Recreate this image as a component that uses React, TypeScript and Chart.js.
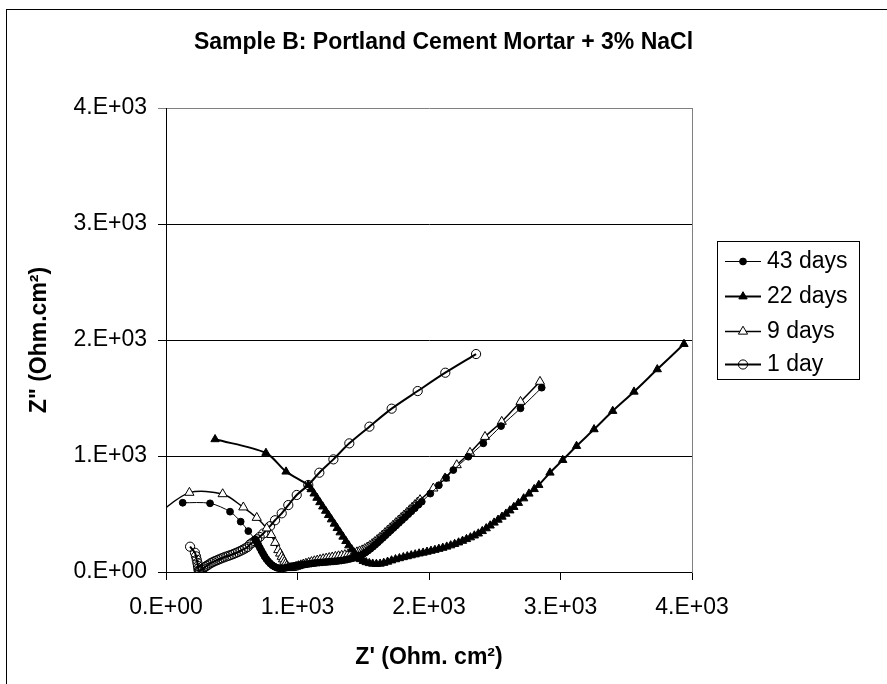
import React, { useEffect, useRef } from "react";
import { Chart, registerables } from "chart.js";

Chart.register(...registerables);

const titleText = "Sample B: Portland Cement Mortar + 3% NaCl";
const xTitle = "Z' (Ohm. cm²)";
const yTitle = 'Z" (Ohm.cm²)';
const tickLabels = ["0.E+00", "1.E+03", "2.E+03", "3.E+03", "4.E+03"];
const seriesLabels = ["43 days", "22 days", "9 days", "1 day"];

// 43 days
const x43 = [127, 335, 487, 568, 626, 677, 690, 702, 714, 726, 738, 750, 763, 777, 792, 808, 825, 842, 860, 878, 896, 914, 932, 950, 968, 987, 1006, 1025, 1045, 1065, 1085, 1105, 1125, 1145, 1165, 1186, 1207, 1228, 1249, 1270, 1291, 1312, 1333, 1355, 1376, 1398, 1420, 1440, 1460, 1480, 1500, 1518, 1536, 1555, 1574, 1592, 1611, 1630, 1650, 1670, 1690, 1710, 1730, 1750, 1772, 1795, 1818, 1842, 1866, 1892, 1920, 1945, 2010, 2075, 2130, 2185, 2299, 2413, 2548, 2696, 2857];
const y43 = [597, 592, 520, 434, 353, 282, 258, 234, 208, 182, 158, 134, 112, 92, 74, 58, 46, 37, 32, 31, 33, 37, 42, 47, 51, 55, 58, 61, 64, 67, 70, 73, 76, 79, 81, 83, 85, 87, 89, 91, 93, 96, 99, 103, 107, 113, 119, 126, 134, 144, 156, 169, 184, 200, 218, 236, 255, 275, 295, 317, 338, 359, 380, 401, 424, 448, 472, 498, 523, 550, 580, 606, 676, 748, 812, 879, 994, 1109, 1258, 1411, 1589];

// 22 days
const x22 = [373, 760, 913, 1082, 1104, 1126, 1148, 1170, 1192, 1214, 1236, 1258, 1280, 1302, 1324, 1346, 1368, 1390, 1412, 1434, 1456, 1478, 1500, 1522, 1546, 1572, 1600, 1628, 1656, 1685, 1715, 1745, 1775, 1805, 1835, 1865, 1895, 1925, 1955, 1985, 2015, 2045, 2075, 2105, 2135, 2165, 2195, 2225, 2255, 2285, 2315, 2345, 2375, 2405, 2435, 2465, 2495, 2525, 2555, 2585, 2615, 2645, 2680, 2720, 2760, 2800, 2835, 2920, 3017, 3122, 3255, 3397, 3559, 3736, 3939];
const y22 = [1144, 1026, 865, 750, 713, 676, 639, 601, 564, 527, 490, 453, 416, 378, 341, 304, 266, 229, 195, 162, 133, 110, 95, 84, 76, 71, 69, 71, 78, 88, 99, 109, 118, 127, 135, 143, 151, 159, 166, 174, 182, 190, 199, 208, 218, 229, 241, 254, 268, 283, 298, 314, 331, 352, 376, 400, 425, 450, 476, 502, 530, 560, 595, 634, 675, 714, 750, 856, 965, 1086, 1230, 1388, 1554, 1747, 1965];

// 9 days
const x9 = [-60, 178, 431, 588, 690, 766, 800, 830, 854, 868, 880, 890, 900, 909, 918, 930, 943, 958, 974, 990, 1007, 1025, 1044, 1064, 1085, 1106, 1128, 1150, 1172, 1195, 1218, 1241, 1264, 1288, 1312, 1336, 1360, 1384, 1408, 1430, 1452, 1472, 1492, 1511, 1530, 1549, 1568, 1587, 1606, 1626, 1645, 1665, 1685, 1705, 1726, 1747, 1768, 1789, 1810, 1831, 1852, 1872, 1892, 1912, 1932, 2033, 2122, 2211, 2312, 2426, 2553, 2696, 2844];
const y9 = [505, 684, 672, 558, 468, 377, 320, 252, 190, 160, 132, 110, 89, 70, 52, 42, 35, 36, 40, 46, 52, 59, 66, 73, 80, 87, 94, 100, 106, 112, 117, 122, 127, 132, 137, 142, 147, 152, 158, 164, 171, 179, 188, 199, 212, 226, 242, 259, 277, 296, 316, 337, 358, 379, 401, 423, 445, 467, 489, 511, 534, 556, 578, 600, 621, 721, 808, 922, 1029, 1166, 1296, 1468, 1641];

// 1 day
const x1 = [183, 220, 228, 234, 239, 243, 246, 249, 253, 260, 270, 282, 295, 309, 324, 340, 356, 372, 389, 406, 423, 440, 458, 476, 494, 512, 530, 548, 566, 584, 602, 620, 638, 656, 674, 692, 712, 740, 791, 829, 880, 930, 994, 1082, 1166, 1273, 1394, 1547, 1716, 1914, 2124, 2358];
const y1 = [218, 166, 135, 105, 78, 52, 30, 12, 5, 12, 20, 30, 42, 53, 64, 76, 85, 94, 102, 110, 118, 126, 133, 140, 147, 155, 163, 172, 182, 192, 203, 215, 238, 252, 266, 282, 302, 332, 395, 446, 506, 577, 664, 750, 856, 971, 1109, 1253, 1408, 1560, 1718, 1879];

const toPoints = (xs: number[], ys: number[]) => xs.map((x, i) => ({ x, y: ys[i] }));

const FONT = "'Liberation Sans', Arial, Helvetica, sans-serif";

function drawMarker(ctx: CanvasRenderingContext2D, style: string, r: number, fill: string, x: number, y: number) {
  ctx.beginPath();
  if (style === "triangle") {
    const h = r * 1.5;
    const s = (r * Math.sqrt(3)) / 2;
    ctx.moveTo(x, y - r);
    ctx.lineTo(x + s, y - r + h);
    ctx.lineTo(x - s, y - r + h);
    ctx.closePath();
  } else {
    ctx.arc(x, y, r, 0, Math.PI * 2);
  }
  if (fill !== "transparent") {
    ctx.fillStyle = fill;
    ctx.fill();
  }
  ctx.lineWidth = 1;
  ctx.strokeStyle = "#000";
  ctx.stroke();
}

const boxLegend = {
  id: "boxLegend",
  afterDraw(chart: any) {
    const ctx: CanvasRenderingContext2D = chart.ctx;
    ctx.save();
    ctx.fillStyle = "#fff";
    ctx.fillRect(718, 242, 141, 137);
    ctx.strokeStyle = "#000";
    ctx.lineWidth = 1;
    ctx.strokeRect(717.5, 241.5, 142, 138);
    const ys = [261, 296, 331, 364];
    chart.data.datasets.forEach((ds: any, i: number) => {
      const y = ys[i];
      ctx.beginPath();
      ctx.strokeStyle = "#000";
      ctx.lineWidth = ds.borderWidth;
      ctx.moveTo(725, y + 0.5);
      ctx.lineTo(761, y + 0.5);
      ctx.stroke();
      drawMarker(ctx, ds.pointStyle, ds.pointRadius, ds.pointBackgroundColor, 743, y + 0.5);
      ctx.fillStyle = "#000";
      ctx.font = `23px ${FONT}`;
      ctx.textAlign = "left";
      ctx.textBaseline = "middle";
      ctx.fillText(ds.label, 767, y + 1);
    });
    ctx.restore();
  },
};

const outerFrame = {
  id: "outerFrame",
  beforeDraw(chart: any) {
    const ctx: CanvasRenderingContext2D = chart.ctx;
    ctx.save();
    ctx.fillStyle = "#fff";
    ctx.fillRect(0, 0, chart.width, chart.height);
    ctx.strokeStyle = "#000";
    ctx.lineWidth = 1;
    ctx.strokeRect(6.5, 9.5, 1000, 1000);
    ctx.restore();
  },
};

export default function App() {
  const ref = useRef<HTMLCanvasElement | null>(null);

  useEffect(() => {
    if (!ref.current) return;
    Chart.defaults.font.family = FONT;
    Chart.defaults.color = "#000";
    const tickCb = (v: any) => tickLabels[Math.round(Number(v) / 1000)] ?? "";
    const chart = new Chart(ref.current, {
      type: "scatter",
      data: {
        datasets: [
          {
            label: seriesLabels[0],
            data: toPoints(x43, y43),
            showLine: true,
            borderColor: "#000",
            borderWidth: 1,
            pointStyle: "circle",
            pointRadius: 3.4,
            pointBackgroundColor: "#000",
            pointBorderColor: "#000",
            pointBorderWidth: 1,
            tension: 0.3,
          },
          {
            label: seriesLabels[1],
            data: toPoints(x22, y22),
            showLine: true,
            borderColor: "#000",
            borderWidth: 2,
            pointStyle: "triangle",
            pointRadius: 4.8,
            pointBackgroundColor: "#000",
            pointBorderColor: "#000",
            pointBorderWidth: 1,
            tension: 0.3,
          },
          {
            label: seriesLabels[2],
            data: toPoints(x9, y9),
            showLine: true,
            borderColor: "#000",
            borderWidth: 1.5,
            pointStyle: "triangle",
            pointRadius: 5.3,
            pointBackgroundColor: "#fff",
            pointBorderColor: "#000",
            pointBorderWidth: 1,
            tension: 0.3,
          },
          {
            label: seriesLabels[3],
            data: toPoints(x1, y1),
            showLine: true,
            borderColor: "#000",
            borderWidth: 2,
            pointStyle: "circle",
            pointRadius: 4.6,
            pointBackgroundColor: "transparent",
            pointBorderColor: "#000",
            pointBorderWidth: 1,
            tension: 0.3,
          },
        ] as any,
      },
      options: {
        responsive: false,
        animation: false,
        devicePixelRatio: 1,
        layout: { padding: 0 },
        plugins: {
          legend: { display: false },
          tooltip: { enabled: false },
          title: {
            display: true,
            text: titleText,
            color: "#000",
            font: { size: 23, weight: "bold" },
            padding: { top: 29, bottom: 51.4 },
          },
        },
        scales: {
          x: {
            type: "linear",
            position: "bottom",
            min: 0,
            max: 4000,
            ticks: {
              stepSize: 1000,
              callback: tickCb,
              font: { size: 23 },
              padding: 14,
              maxRotation: 0,
              autoSkip: false,
              color: "#000",
            },
            grid: { display: true, drawOnChartArea: false, drawTicks: true, tickLength: 8, color: "#000" },
            border: { display: true, color: "#000", width: 1 },
            title: {
              display: true,
              text: xTitle,
              color: "#000",
              font: { size: 23, weight: "bold" },
              padding: { top: 0, bottom: 13 },
            },
            afterFit: (s: any) => {
              s.height = 112;
            },
          },
          y: {
            type: "linear",
            position: "left",
            min: 0,
            max: 4000,
            ticks: {
              stepSize: 1000,
              callback: tickCb,
              font: { size: 23 },
              padding: 11,
              color: "#000",
            },
            grid: {
              color: (c: any) => (c.tick && c.tick.value === 4000 ? "#808080" : "#000"),
              tickLength: 8,
              drawTicks: true,
            },
            border: { display: true, color: "#000", width: 1 },
            title: {
              display: true,
              text: yTitle,
              color: "#000",
              font: { size: 23, weight: "bold" },
              padding: { top: 26, bottom: 0 },
            },
            afterFit: (s: any) => {
              s.width = 166;
            },
          },
          y2: {
            type: "linear",
            position: "right",
            display: true,
            grid: { display: false },
            ticks: { display: false },
            border: { display: true, color: "#808080", width: 1 },
            afterFit: (s: any) => {
              s.width = 195;
            },
          },
        },
      } as any,
      plugins: [outerFrame, boxLegend],
    });
    return () => chart.destroy();
  }, []);

  return (
    <div style={{ position: "absolute", left: 0, top: 0, width: 887, height: 684 }}>
      <canvas ref={ref} width={887} height={684} style={{ display: "block", width: 887, height: 684 }} />
    </div>
  );
}
